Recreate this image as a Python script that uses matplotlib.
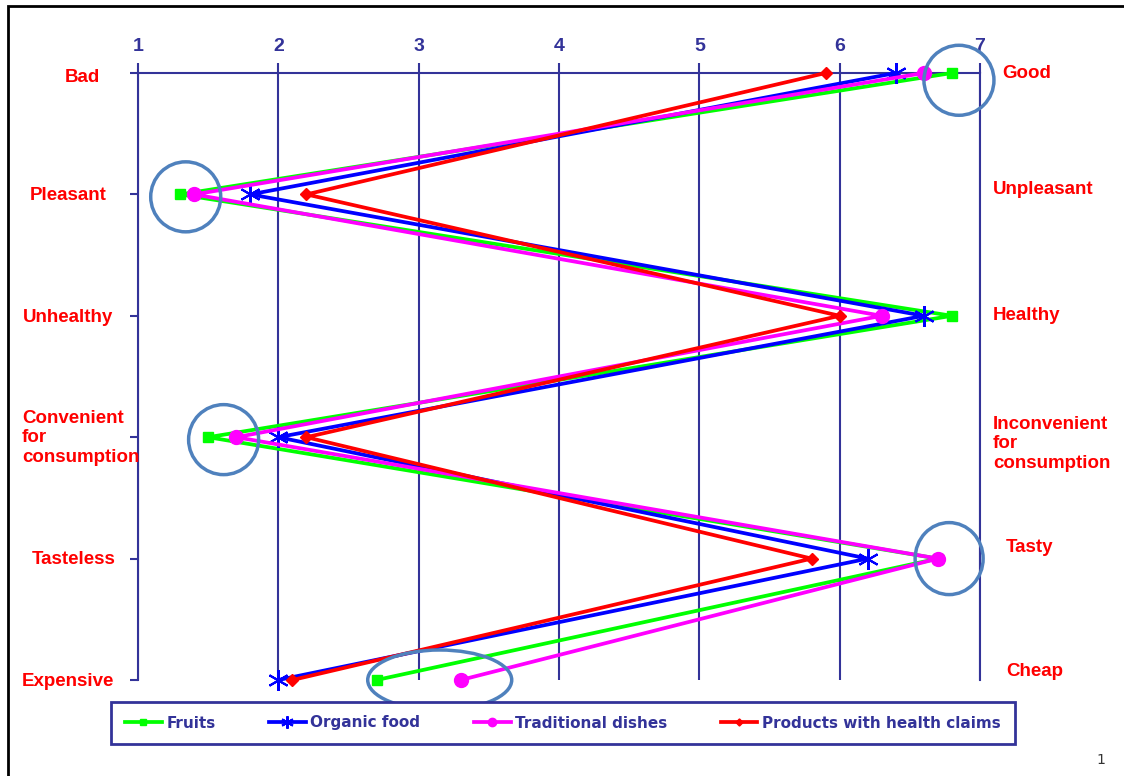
import matplotlib
matplotlib.use('Agg')
import matplotlib.pyplot as plt
from matplotlib.patches import Ellipse, Rectangle

# ---- data ----
left_labels = ['Bad', 'Pleasant', 'Unhealthy', 'Convenient\nfor\nconsumption', 'Tasteless', 'Expensive']
right_labels = ['Good', 'Unpleasant', 'Healthy', 'Inconvenient\nfor\nconsumption', 'Tasty', 'Cheap']
scale_ticks = [1, 2, 3, 4, 5, 6, 7]

fruits = [6.8, 1.3, 6.8, 1.5, 6.7, 2.7]
organic = [6.4, 1.8, 6.6, 2.0, 6.2, 2.0]
traditional = [6.6, 1.4, 6.3, 1.7, 6.7, 3.3]
health_claims = [5.9, 2.2, 6.0, 2.2, 5.8, 2.1]

W, H = 1124, 776
NAVY = '#333399'
RED = '#ff0000'
CIRC = '#4f81bd'

fig = plt.figure(figsize=(W / 100, H / 100), dpi=100)
fig.patch.set_facecolor('white')

# slide frame (cut off on right and bottom)
fig.add_artist(Rectangle((8 / W, -0.2), 2, 1.2 - 6 / H, transform=fig.transFigure,
                         fill=False, edgecolor='black', linewidth=2))

ax = fig.add_axes([138 / W, 1 - 680 / H, (980 - 138) / W, (680 - 73) / H])
rows = list(range(len(left_labels)))
ax.set_xlim(1, 7)
ax.set_ylim(len(rows) - 1, 0)

# grid / axes styling
ax.xaxis.tick_top()
ax.set_xticks(scale_ticks)
ax.set_xticklabels([str(t) for t in scale_ticks], fontsize=14, color=NAVY,
                   family='Liberation Sans', fontweight='bold')
ax.tick_params(axis='x', direction='out', length=7, width=1.5, color=NAVY, pad=6)
ax.set_yticks(rows)
ax.set_yticklabels([])
ax.tick_params(axis='y', direction='out', length=6, width=1.5, color=NAVY)
ax.grid(axis='x', color=NAVY, linewidth=1.5)
ax.set_axisbelow(True)
for side in ['top', 'left', 'right']:
    ax.spines[side].set_color(NAVY)
    ax.spines[side].set_linewidth(1.5)
ax.spines['bottom'].set_visible(False)

# series
ax.plot(fruits, rows, color='#00ff00', lw=2.7, marker='s', ms=7,
        label='Fruits', clip_on=False, zorder=3)
ax.plot(organic, rows, color='#0000ff', lw=2.7, marker=(6, 2, 0), ms=15, mew=1.5,
        label='Organic food', clip_on=False, zorder=4)
ax.plot(traditional, rows, color='#ff00ff', lw=2.7, marker='o', ms=10,
        label='Traditional dishes', clip_on=False, zorder=5)
ax.plot(health_claims, rows, color=RED, lw=2.7, marker='D', ms=6,
        label='Products with health claims', clip_on=False, zorder=6)

# highlight circles
px_x = (980 - 138) / 6.0
px_y = (680 - 73) / 5.0
circles = [(6.85, 0.06, 35, 35), (1.34, 1.02, 35, 35), (1.61, 3.02, 35, 35),
           (6.78, 4.0, 34, 36), (3.15, 5.0, 72, 30)]
for cx, cy, rx, ry in circles:
    ax.add_patch(Ellipse((cx, cy), 2 * rx / px_x, 2 * ry / px_y, fill=False,
                         edgecolor=CIRC, linewidth=2.5, clip_on=False, zorder=7))

# pole labels
left_pos = [(65, 77), (30, 195), (23, 318), (22, 438), (32, 559), (22, 681)]
right_pos = [(1002, 73), (993, 190), (993, 316), (993, 444), (1006, 548), (1006, 672)]
for lab, (x, y) in zip(left_labels, left_pos):
    fig.text(x / W, 1 - y / H, lab, ha='left', va='center', fontsize=13.5,
             fontweight='bold', color=RED, family='Liberation Sans', linespacing=1.2)
for lab, (x, y) in zip(right_labels, right_pos):
    fig.text(x / W, 1 - y / H, lab, ha='left', va='center', fontsize=13.5,
             fontweight='bold', color=RED, family='Liberation Sans', linespacing=1.2)

# legend
leg = fig.legend(loc='center', bbox_to_anchor=(563 / W, 1 - 723 / H), ncol=4,
                 frameon=True, fancybox=False, framealpha=1, edgecolor=NAVY,
                 prop={'family': 'DejaVu Sans', 'weight': 'bold', 'size': 11},
                 handlelength=2.4, handletextpad=0.3, columnspacing=3.5,
                 borderpad=0.9, markerscale=0.6)
leg.get_frame().set_linewidth(2)
for t in leg.get_texts():
    t.set_color(NAVY)

fig.text(1101 / W, 1 - 760 / H, '1', ha='center', va='center', fontsize=10,
         color='#333333')

plt.savefig('out.png', dpi=100, facecolor='white')
plt.close()
